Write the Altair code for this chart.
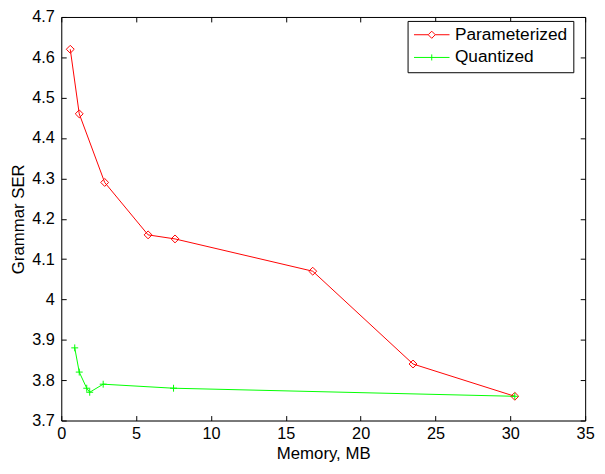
import altair as alt
import pandas as pd

# ---- data ----
series_names = ["Parameterized", "Quantized"]
param_mem = [0.6, 1.2, 2.9, 5.8, 7.6, 16.8, 23.5, 30.3]
param_ser = [4.62, 4.46, 4.29, 4.16, 4.15, 4.07, 3.84, 3.76]
quant_mem = [0.9, 1.2, 1.7, 1.9, 2.8, 7.5, 30.3]
quant_ser = [3.88, 3.82, 3.78, 3.77, 3.79, 3.78, 3.76]

x_ticks = [0, 5, 10, 15, 20, 25, 30, 35]
y_ticks = [3.7, 3.8, 3.9, 4.0, 4.1, 4.2, 4.3, 4.4, 4.5, 4.6, 4.7]

colors = ["#ff0000", "#00ff00"]
marker_shapes = ["diamond", "M-1,0L1,0M0,-1L0,1"]
legend_shapes = [
    "M-1,0L-0.2,0M0.2,0L1,0M0,-0.2L0.2,0L0,0.2L-0.2,0Z",
    "M-1,0L1,0M0,-0.17L0,0.17",
]

df = pd.DataFrame({
    "memory": param_mem + quant_mem,
    "ser": param_ser + quant_ser,
    "series": [series_names[0]] * len(param_mem) + [series_names[1]] * len(quant_mem),
})

FONT = "Liberation Sans, Arial, Helvetica, sans-serif"
W, H = 531, 409

xscale = alt.Scale(domain=[0, 35], nice=False, zero=False)
yscale = alt.Scale(domain=[3.7, 4.7], nice=False, zero=False)

common_axis = dict(grid=False, domainColor="black", tickColor="black",
                   labelFont=FONT, labelFontSize=16.5, labelColor="black",
                   titleFont=FONT, titleFontSize=17, titleColor="black",
                   titleFontWeight="normal")

# main axes: labels, titles, bottom/left lines
x_main = alt.Axis(values=x_ticks, orient="bottom", ticks=False, tickSize=0,
                  labelPadding=5, title="Memory, MB", titlePadding=4,
                  labelFlush=False, labelOverlap=False, **common_axis)
y_main = alt.Axis(values=y_ticks, orient="left", ticks=False, tickSize=0,
                  labelPadding=7, format="~g", title="Grammar SER", titlePadding=4,
                  labelOverlap=False, labelFlush=False, **common_axis)

# inward ticks at bottom / left edges
x_in_bottom = alt.Axis(values=x_ticks, orient="top", offset=-H, labels=False,
                       domain=False, ticks=True, tickSize=5, title=None, **common_axis)
y_in_left = alt.Axis(values=y_ticks, orient="right", offset=-W, labels=False,
                     domain=False, ticks=True, tickSize=5, title=None, **common_axis)

# top / right box lines with inward ticks
x_in_top = alt.Axis(values=x_ticks, orient="bottom", offset=-H, labels=False,
                    domain=True, ticks=True, tickSize=5, title=None, **common_axis)
y_in_right = alt.Axis(values=y_ticks, orient="left", offset=-W, labels=False,
                      domain=True, ticks=True, tickSize=5, title=None, **common_axis)

lines = alt.Chart(df).mark_line(strokeWidth=1).encode(
    x=alt.X("memory:Q", scale=xscale, axis=x_main),
    y=alt.Y("ser:Q", scale=yscale, axis=y_main),
    color=alt.Color("series:N", scale=alt.Scale(domain=series_names, range=colors), legend=None),
)

points = alt.Chart(df).mark_point(filled=False, strokeWidth=1, opacity=1).encode(
    x=alt.X("memory:Q", scale=xscale, axis=x_in_bottom),
    y=alt.Y("ser:Q", scale=yscale, axis=y_in_left),
    color=alt.Color("series:N", scale=alt.Scale(domain=series_names, range=colors), legend=None),
    shape=alt.Shape("series:N", scale=alt.Scale(domain=series_names, range=marker_shapes), legend=None),
    size=alt.Size("series:N", scale=alt.Scale(domain=series_names, range=[64, 49]), legend=None),
)

leg = dict(title=None, orient="none", legendX=351, legendY=4, padding=6,
           strokeColor="black", fillColor="white", symbolSize=1296,
           symbolStrokeWidth=1, clipHeight=16, rowPadding=5,
           labelFont=FONT, labelFontSize=17.5, labelColor="black", labelOffset=5)

legend_layer = alt.Chart(df).transform_filter("false").mark_point(
    filled=False, strokeWidth=1, opacity=1
).encode(
    x=alt.X("memory:Q", scale=xscale, axis=x_in_top),
    y=alt.Y("ser:Q", scale=yscale, axis=y_in_right),
    color=alt.Color("series:N", scale=alt.Scale(domain=series_names, range=colors),
                    legend=alt.Legend(**leg)),
    shape=alt.Shape("series:N", scale=alt.Scale(domain=series_names, range=legend_shapes),
                    legend=alt.Legend(**leg)),
)

chart = alt.layer(lines, points, legend_layer).resolve_axis(
    x="independent", y="independent"
).resolve_scale(
    color="independent", shape="independent"
).properties(
    width=W, height=H,
    autosize=alt.AutoSizeParams(type="none"),
    padding={"left": 54, "top": 6, "right": 12, "bottom": 43},
).configure_view(stroke=None).configure(background="white")

chart.save("out.html", embed_options={"renderer": "svg", "actions": False})
